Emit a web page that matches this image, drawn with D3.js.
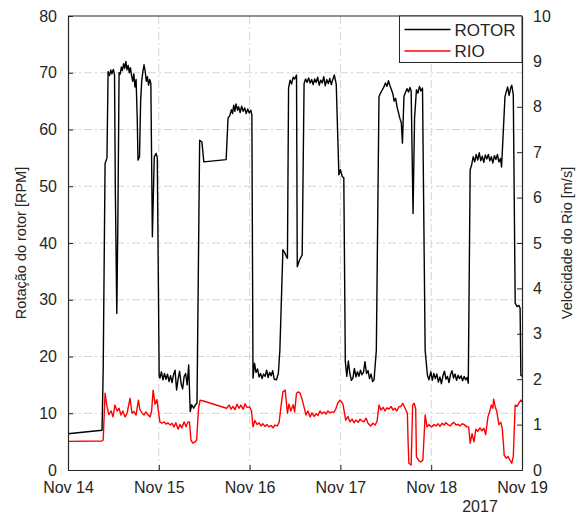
<!DOCTYPE html>
<html>
<head>
<meta charset="utf-8">
<script src="https://cdn.jsdelivr.net/npm/d3@7"></script>
<style>
  body { margin: 0; background: #fff; }
  svg { display: block; font-family: "Liberation Sans", Arial, Helvetica, sans-serif; }
</style>
</head>
<body>
<div id="chart"></div>
<script>
// hours since Nov 14 2017 00:00, rotor speed [RPM]
var rotorPoints = [
  [0, 6.4], [9.0, 7.0], [9.3, 17.6], [9.8, 54], [10.3, 55], [10.6, 70.2], [11.0, 69.5], [11.3, 70.5], [11.6, 69.8],
  [12.0, 70.6], [12.3, 69.6], [12.5, 50], [12.9, 27.6], [13.2, 45], [13.5, 70.0], [13.8, 69.8], [14.1, 71.0],
  [14.4, 70.4], [14.7, 71.6], [15.0, 70.8], [15.3, 72.0], [15.6, 70.5], [15.9, 71.3], [16.2, 70.0], [16.5, 70.9],
  [16.8, 69.5], [17.1, 68.5], [17.4, 69.8], [17.7, 67.5], [18.0, 68.8], [18.3, 62], [18.5, 54.6], [18.9, 55.2],
  [19.2, 65], [19.5, 68.7], [19.8, 70.2], [20.1, 71.4], [20.4, 70.3], [20.7, 68.5], [21.0, 69.3], [21.3, 67.8],
  [21.6, 68.8], [21.9, 68.1], [22.3, 41.1], [22.8, 55.2], [23.3, 55.8], [23.6, 55.0], [24.1, 16.4],
  [24.3, 16.2], [24.7, 17.3], [25.1, 15.9], [25.5, 17.0], [25.9, 16.0], [26.3, 16.9], [26.7, 15.6], [27.1, 16.6],
  [27.5, 15.4], [27.9, 16.8], [28.3, 17.6], [28.7, 14.1], [29.1, 16.0], [29.5, 17.4], [29.9, 15.2], [30.3, 14.3],
  [30.7, 16.5], [31.1, 17.0], [31.5, 15.0], [31.9, 18.5], [32.3, 10.3], [32.7, 11.5], [33.2, 10.9], [33.6, 11.4],
  [34.1, 11.8], [34.8, 58.1], [35.4, 57.8], [35.9, 54.3], [41.8, 54.7], [42.3, 62.0], [42.8, 62.5], [43.2, 63.5],
  [43.5, 62.8], [43.8, 64.3], [44.1, 63.2], [44.4, 64.5], [44.8, 63.4], [45.1, 64.0], [45.5, 63.0], [45.9, 64.1],
  [46.3, 63.2], [46.7, 63.8], [47.1, 62.8], [47.5, 63.6], [47.9, 62.9], [48.3, 63.4], [48.6, 62.6],
  [48.9, 16.2], [49.3, 18.8], [49.7, 17.2], [50.1, 17.8], [50.5, 16.4], [50.9, 17.0], [51.3, 16.1], [51.7, 16.9],
  [52.1, 16.5], [52.5, 17.6], [52.9, 16.3], [53.3, 17.2], [53.7, 16.6], [54.1, 17.5], [54.5, 16.0], [55.1, 15.9],
  [55.6, 17.0], [56.0, 21.1], [56.8, 38.8], [57.2, 38.4], [57.6, 37.8], [58.0, 37.3], [58.3, 67.3], [58.7, 68.7],
  [59.1, 68.0], [59.5, 69.2], [59.9, 68.9], [60.4, 69.6], [60.6, 35.8], [61.2, 37.0], [61.9, 37.9], [62.4, 68.1],
  [62.8, 68.9], [63.2, 68.3], [63.6, 69.1], [64.0, 68.2], [64.4, 68.8], [64.8, 67.9], [65.2, 68.9], [65.6, 68.3],
  [66.0, 69.2], [66.4, 67.8], [66.8, 68.7], [67.2, 68.2], [67.6, 69.3], [68.0, 67.7], [68.4, 68.8], [68.8, 68.1],
  [69.2, 69.0], [69.6, 67.9], [70.0, 68.8], [70.4, 69.6], [70.9, 68.0], [71.6, 52.0], [72.0, 52.9], [72.5, 51.7],
  [72.9, 51.5], [73.3, 19.1], [73.7, 16.5], [74.1, 19.2], [74.5, 17.0], [74.9, 15.8], [75.3, 16.2], [75.7, 17.9],
  [76.1, 16.4], [76.5, 17.3], [76.9, 16.5], [77.3, 17.6], [77.7, 16.8], [78.1, 17.2], [78.5, 19.1], [78.9, 17.0],
  [79.3, 17.5], [79.7, 16.1], [80.1, 16.9], [80.5, 15.6], [80.9, 15.9], [81.5, 21.1], [82.2, 65.8], [82.6, 66.4],
  [83.1, 67.0], [83.5, 67.5], [83.9, 68.2], [84.3, 67.6], [84.7, 68.6], [85.1, 67.7], [85.5, 67.0], [85.9, 66.2],
  [86.2, 65.0], [86.6, 65.5], [87.0, 63.9], [87.3, 63.1], [87.7, 62.0], [88.1, 61.2], [88.4, 57.6], [88.8, 65.8],
  [89.2, 66.5], [89.6, 67.2], [90.0, 66.6], [90.4, 67.4], [90.7, 66.8], [91.2, 45.2], [91.6, 62.0], [92.1, 67.0],
  [92.5, 66.4], [92.9, 67.6], [93.3, 66.8], [93.7, 67.3], [94.4, 21.1], [95.0, 16.7], [95.4, 15.9], [95.9, 17.3],
  [96.3, 15.8], [96.7, 17.0], [97.1, 16.1], [97.5, 16.9], [97.9, 15.5], [98.3, 16.4], [98.7, 15.2], [99.1, 16.6],
  [99.5, 17.4], [99.9, 16.0], [100.3, 16.5], [100.7, 15.4], [101.1, 16.8], [101.5, 17.5], [101.9, 16.2],
  [102.3, 16.9], [102.7, 15.8], [103.1, 16.7], [103.5, 16.1], [103.9, 16.6], [104.3, 15.7], [104.7, 16.5],
  [105.1, 15.9], [105.5, 16.3], [105.8, 15.3], [106.3, 52.9], [106.7, 53.8], [107.1, 55.2], [107.5, 54.3],
  [107.9, 55.6], [108.3, 54.6], [108.7, 55.9], [109.1, 54.5], [109.5, 55.3], [109.9, 54.2], [110.3, 55.5],
  [110.7, 54.8], [111.1, 55.6], [111.5, 54.5], [111.9, 55.2], [112.3, 54.1], [112.7, 55.4], [113.1, 54.7],
  [113.5, 55.6], [113.9, 54.3], [114.3, 54.9], [114.6, 53.4], [115.5, 65.8], [115.9, 66.8], [116.2, 67.5],
  [116.6, 66.0], [117.0, 67.3], [117.3, 67.8], [117.7, 66.1], [118.2, 29.4], [118.7, 28.8], [119.2, 29.0],
  [119.5, 28.5], [119.7, 16.7], [120, 16.5]
];

// hours since Nov 14 2017 00:00, river speed [m/s]
var rioPoints = [
  [0, 0.63], [9.0, 0.64], [9.3, 0.66], [9.8, 1.69], [10.3, 1.40], [10.8, 1.22], [11.4, 1.30], [11.9, 1.17],
  [12.4, 1.43], [13.0, 1.30], [13.5, 1.36], [14.0, 1.21], [14.5, 1.30], [15.1, 1.17], [15.6, 1.25], [16.4, 1.58],
  [16.9, 1.25], [17.4, 1.29], [18.0, 1.21], [18.6, 1.54], [19.0, 1.33], [19.6, 1.25], [20.1, 1.21], [20.6, 1.28],
  [21.1, 1.22], [21.7, 1.17], [22.1, 1.30], [22.5, 1.76], [23.0, 1.45], [23.5, 1.55], [24.1, 1.17],
  [24.3, 1.06], [24.8, 1.03], [25.4, 1.06], [25.9, 1.01], [26.4, 1.04], [27.0, 0.99], [27.5, 1.03], [28.0, 0.95],
  [28.5, 1.04], [29.1, 0.90], [29.6, 1.00], [30.1, 0.93], [30.7, 1.06], [31.2, 0.95], [31.7, 1.06], [32.1, 1.06],
  [32.5, 0.66], [33.0, 0.59], [33.6, 0.62], [34.0, 0.66], [34.5, 1.35], [34.9, 1.54], [35.8, 1.52], [41.9, 1.36],
  [42.6, 1.43], [43.1, 1.34], [43.6, 1.40], [44.1, 1.33], [44.7, 1.45], [45.2, 1.36], [45.7, 1.43], [46.3, 1.34],
  [46.8, 1.46], [47.3, 1.38], [48.0, 1.39], [48.5, 1.30],
  [48.9, 0.95], [49.4, 1.09], [50.0, 1.00], [50.5, 1.04], [51.0, 0.97], [51.5, 1.02], [52.1, 0.96], [52.6, 1.00],
  [53.1, 0.95], [53.7, 0.98], [54.2, 0.93], [54.7, 0.99], [55.3, 0.97], [55.8, 1.05], [56.3, 1.40], [56.8, 1.72],
  [57.4, 1.76], [58.0, 1.25], [58.4, 1.45], [58.9, 1.30], [59.5, 1.44], [59.9, 1.28], [60.4, 1.69], [60.9, 1.72],
  [61.3, 1.70], [61.9, 1.55], [62.6, 1.32], [62.9, 1.21], [63.4, 1.30], [64.0, 1.17], [64.5, 1.26], [65.0, 1.18],
  [65.6, 1.24], [66.1, 1.20], [66.6, 1.30], [67.1, 1.24], [67.7, 1.28], [68.2, 1.23], [68.7, 1.30], [69.2, 1.26],
  [69.8, 1.28], [70.3, 1.27], [70.8, 1.35], [71.3, 1.47], [71.9, 1.54], [72.3, 1.50], [72.7, 1.44],
  [73.4, 1.10], [74.0, 1.18], [74.5, 1.06], [75.1, 1.12], [75.6, 1.04], [76.1, 1.10], [76.7, 1.05], [77.2, 1.12],
  [77.7, 1.08], [78.2, 1.06], [78.8, 1.14], [79.3, 1.03], [80.0, 0.97], [80.6, 1.03], [81.2, 0.99], [81.7, 1.08],
  [82.2, 1.43], [82.7, 1.32], [83.3, 1.38], [83.8, 1.30], [84.3, 1.37], [84.8, 1.34], [85.4, 1.40], [85.9, 1.32],
  [86.4, 1.36], [86.9, 1.30], [87.5, 1.40], [87.9, 1.39], [88.5, 1.47], [89.1, 1.36], [89.7, 1.25], [89.9, 0.6],
  [90.1, 0.15], [90.7, 0.11], [91.1, 1.43], [91.5, 1.47], [91.9, 1.35], [92.1, 0.29], [92.8, 0.20], [93.3, 0.18],
  [93.8, 0.22], [94.4, 1.21], [94.9, 0.95], [95.4, 1.00], [96.1, 0.95], [96.8, 1.00], [97.3, 0.97], [97.8, 1.02],
  [98.3, 0.96], [98.9, 1.03], [99.4, 0.99], [99.9, 1.04], [100.4, 1.00], [101.0, 0.97], [101.5, 1.02],
  [102.0, 1.05], [102.6, 0.99], [103.1, 1.01], [103.6, 0.97], [104.2, 1.02], [104.7, 1.00], [105.4, 0.95],
  [105.9, 0.95], [106.3, 0.59], [106.8, 0.80], [107.3, 0.62], [107.8, 0.90], [108.3, 0.85], [108.9, 0.93],
  [109.4, 0.86], [109.9, 0.92], [110.4, 0.78], [111.0, 1.17], [111.5, 1.30], [111.9, 1.43], [112.3, 1.36],
  [112.5, 1.56], [112.9, 1.40], [113.3, 1.30], [113.9, 1.00], [114.4, 1.05], [114.8, 0.90], [115.3, 0.33],
  [115.8, 0.26], [116.3, 0.30], [116.8, 0.22], [117.3, 0.15], [117.7, 0.30], [118.2, 1.43], [118.7, 1.40],
  [119.2, 1.48], [119.7, 1.54], [120.0, 1.50]
];

var leftTicks = [0, 10, 20, 30, 40, 50, 60, 70, 80];
var rightTicks = [0, 1, 2, 3, 4, 5, 6, 7, 8, 9, 10];
var seriesNames = ["ROTOR", "RIO"];
var seriesColors = ["#000000", "#ff0000"];

var startDate = new Date(Date.UTC(2017, 10, 14));
var endDate = new Date(Date.UTC(2017, 10, 19));
function toDate(h) { return new Date(startDate.getTime() + h * 3600e3); }

var svgWidth = 582, svgHeight = 516;
var margin = {top: 16, right: 60, bottom: 46, left: 68};
var width = svgWidth - margin.left - margin.right;
var height = svgHeight - margin.top - margin.bottom;
var axisColor = "#262626";

var svg = d3.select("#chart").append("svg")
    .attr("width", svgWidth)
    .attr("height", svgHeight);

var g = svg.append("g")
    .attr("transform", "translate(" + margin.left + "," + margin.top + ")");

var x = d3.scaleUtc().domain([startDate, endDate]).range([0, width]);
var yLeft = d3.scaleLinear().domain([0, 80]).range([height, 0]);
var yRight = d3.scaleLinear().domain([0, 10]).range([height, 0]);

var dayTicks = d3.utcDay.range(startDate, d3.utcDay.offset(endDate, 1));

// grid lines (dash-dot)
g.append("g").selectAll("line.vgrid")
    .data(dayTicks.slice(1, -1))
    .enter().append("line")
    .attr("x1", function (d) { return x(d); })
    .attr("x2", function (d) { return x(d); })
    .attr("y1", 0).attr("y2", height)
    .attr("stroke", "#d4d4d4")
    .attr("stroke-dasharray", "8,3,2,3");

g.append("g").selectAll("line.hgrid")
    .data(leftTicks.slice(1, -1))
    .enter().append("line")
    .attr("x1", 0).attr("x2", width)
    .attr("y1", function (d) { return yLeft(d); })
    .attr("y2", function (d) { return yLeft(d); })
    .attr("stroke", "#d4d4d4")
    .attr("stroke-dasharray", "8,3,2,3");

svg.append("clipPath").attr("id", "plot-clip")
    .append("rect").attr("width", width).attr("height", height);

var plot = g.append("g").attr("clip-path", "url(#plot-clip)");

var rotorLine = d3.line()
    .x(function (d) { return x(toDate(d[0])); })
    .y(function (d) { return yLeft(d[1]); });

var rioLine = d3.line()
    .x(function (d) { return x(toDate(d[0])); })
    .y(function (d) { return yRight(d[1]); });

plot.append("path")
    .datum(rotorPoints)
    .attr("fill", "none")
    .attr("stroke", seriesColors[0])
    .attr("stroke-width", 1.4)
    .attr("stroke-linejoin", "round")
    .attr("d", rotorLine);

plot.append("path")
    .datum(rioPoints)
    .attr("fill", "none")
    .attr("stroke", seriesColors[1])
    .attr("stroke-width", 1.4)
    .attr("stroke-linejoin", "round")
    .attr("d", rioLine);

// axes
var fmt = d3.utcFormat("%b %d");

var xAxis = g.append("g")
    .attr("transform", "translate(0," + height + ")")
    .call(d3.axisBottom(x).tickValues(dayTicks).tickFormat(function (d) {
        return fmt(d).replace(" 0", " ");
    }).tickSizeInner(-5).tickSizeOuter(0).tickPadding(12));

var yAxisLeft = g.append("g")
    .call(d3.axisLeft(yLeft).tickValues(leftTicks).tickSizeInner(-5).tickSizeOuter(0).tickPadding(11));

var yAxisRight = g.append("g")
    .attr("transform", "translate(" + width + ",0)")
    .call(d3.axisRight(yRight).tickValues(rightTicks).tickSizeInner(-5).tickSizeOuter(0).tickPadding(11));

[xAxis, yAxisLeft, yAxisRight].forEach(function (a) {
    a.select(".domain").attr("stroke", axisColor).attr("stroke-width", 1.2);
    a.selectAll(".tick line").attr("stroke", axisColor);
    a.selectAll(".tick text")
        .attr("fill", axisColor)
        .style("font-size", "16px")
        .style("font-family", "'Liberation Sans', Arial, sans-serif");
});

// top border
g.append("line")
    .attr("x1", 0).attr("x2", width)
    .attr("y1", 0).attr("y2", 0)
    .attr("stroke", axisColor).attr("stroke-width", 1.2);

// year label
g.append("text")
    .attr("x", x(endDate) - 42)
    .attr("y", height + 42)
    .attr("text-anchor", "middle")
    .attr("fill", axisColor)
    .style("font-size", "16px")
    .text("2017");

// axis labels
svg.append("text")
    .attr("transform", "translate(26," + (margin.top + height / 2) + ") rotate(-90)")
    .attr("text-anchor", "middle")
    .attr("fill", axisColor)
    .style("font-size", "14.5px")
    .text("Rotação do rotor [RPM]");

svg.append("text")
    .attr("transform", "translate(572," + (margin.top + height / 2) + ") rotate(-90)")
    .attr("text-anchor", "middle")
    .attr("fill", axisColor)
    .style("font-size", "14.5px")
    .text("Velocidade do Rio [m/s]");

// legend
var legend = g.append("g")
    .attr("transform", "translate(" + (width - 122.5) + ",0)");

legend.append("rect")
    .attr("width", 122.5)
    .attr("height", 46.5)
    .attr("fill", "#fff")
    .attr("stroke", axisColor)
    .attr("stroke-width", 1);

seriesNames.forEach(function (name, i) {
    var ly = 13.5 + i * 21.5;
    legend.append("line")
        .attr("x1", 5).attr("x2", 51)
        .attr("y1", ly).attr("y2", ly)
        .attr("stroke", seriesColors[i])
        .attr("stroke-width", 1.3);
    legend.append("text")
        .attr("x", 55)
        .attr("y", ly + 6)
        .attr("fill", axisColor)
        .style("font-size", "17px")
        .text(name);
});
</script>
</body>
</html>
